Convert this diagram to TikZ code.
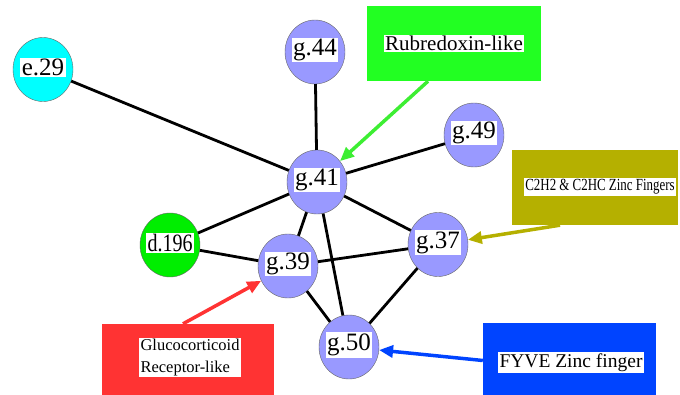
\documentclass[tikz,border=0pt]{standalone}
\usepackage{fontspec}
\setmainfont{Liberation Serif}
\usetikzlibrary{arrows.meta, shapes.geometric}
\definecolor{cdom}{HTML}{9999FF}
\definecolor{ccyan}{HTML}{00FFFF}
\definecolor{cgreen}{HTML}{00EE00}
\definecolor{crub}{HTML}{22FF22}
\definecolor{crubarr}{HTML}{3DEE33}
\definecolor{cczf}{HTML}{B5B000}
\definecolor{cgcr}{HTML}{FF3333}
\definecolor{cfyve}{HTML}{0044FF}
\tikzset{
  dom/.style={ellipse, draw=black!60, thin, fill=cdom, minimum width=60pt,
              minimum height=64pt, inner sep=0pt},
  tag/.style={fill=white, inner sep=1.5pt, yshift=2pt,
              font=\fontsize{25}{27}\selectfont},
  fam/.style={rectangle, inner sep=0pt, minimum height=75pt},
  famtag/.style={fill=white, inner sep=1.5pt},
  link/.style={line width=2.8pt, black},
  famarr/.style={line width=3.5pt, -{Triangle[length=14pt, width=12pt]}},
}
\begin{document}
\begin{tikzpicture}[x=1pt, y=-1pt]
  \clip (0,0) rectangle (680,395);
  % Domains
  \node[dom, fill=ccyan]  (e29)  at (43,69.5)   {};
  \node[dom]              (g44)  at (315,52)    {};
  \node[dom]              (g41)  at (317,182)   {};
  \node[dom]              (g49)  at (474,135)   {};
  \node[dom]              (g37)  at (438,244.5) {};
  \node[dom, fill=cgreen] (d196) at (170,245)   {};
  \node[dom]              (g39)  at (288,266)   {};
  \node[dom]              (g50)  at (349,347)   {};
  \node[tag] (e29t)  at (e29)  {e.29};
  \node[tag] (g44t)  at (g44)  {g.44};
  \node[tag] (g41t)  at (g41)  {g.41};
  \node[tag] (g49t)  at (g49)  {g.49};
  \node[tag] (g37t)  at (g37)  {g.37};
  \node[tag] (d196t) at (d196) {\scalebox{0.8}[1]{d.196}};
  \node[tag] (g39t)  at (g39)  {g.39};
  \node[tag] (g50t)  at (g50)  {g.50};
  % Links
  \draw[link] (e29)  -- (g41);
  \draw[link] (g44)  -- (g41);
  \draw[link] (g49)  -- (g41);
  \draw[link] (d196) -- (g41);
  \draw[link] (d196) -- (g39);
  \draw[link] (g41)  -- (g39);
  \draw[link] (g41)  -- (g50);
  \draw[link] (g41)  -- (g37);
  \draw[link] (g39)  -- (g37);
  \draw[link] (g39)  -- (g50);
  \draw[link] (g37)  -- (g50);
  % Families
  \node[fam, fill=crub, minimum width=174pt] (rub) at (454,43.5) {};
  \node[famtag, font=\fontsize{21}{24}\selectfont] (rubt) at (rub) {Rubredoxin-like};
  \node[fam, fill=cczf, minimum width=166pt] (czf) at (595,187.5) {};
  \node[famtag, font=\fontsize{17}{20}\selectfont] (czft) at (600,187)
    {\scalebox{0.76}[1]{C2H2 \& C2HC Zinc Fingers}};
  \node[fam, fill=cgcr, minimum width=172pt] (gcr) at (188,361.5) {};
  \node[famtag, align=left, font=\fontsize{16.5}{22}\selectfont] (gcrt) at (190,357.5)
    {Glucocorticoid\\Receptor-like};
  \node[fam, fill=cfyve, minimum width=173pt] (fyve) at (569.5,360.5) {};
  \node[famtag, font=\fontsize{19.5}{22}\selectfont] (fyvet) at (571,362.5) {FYVE Zinc finger};
  % Family arrows
  \draw[famarr, crubarr] ([xshift=-26pt]rub.south) -- (g41);
  \draw[famarr, cczf]    ([xshift=-35pt]czf.south) -- (g37);
  \draw[famarr, cgcr]    ([xshift=-5pt]gcr.north)  -- (g39);
  \draw[famarr, cfyve]   (fyve.west) -- (g50);
\end{tikzpicture}
\end{document}
